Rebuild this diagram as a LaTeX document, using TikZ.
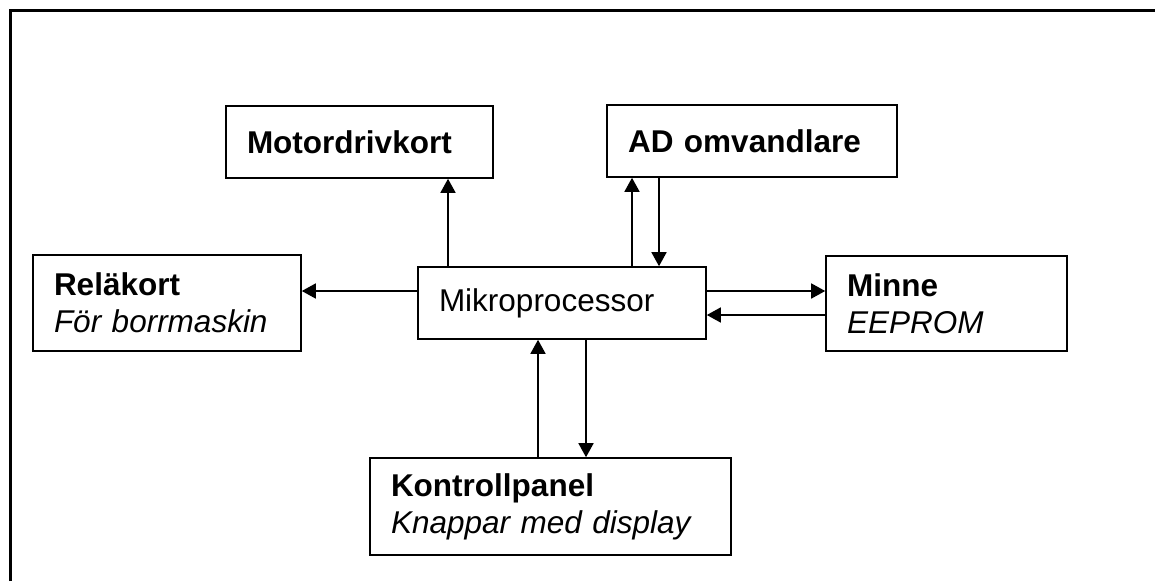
\documentclass[tikz,border=0pt]{standalone}
\usepackage{fontspec}
\setmainfont{Liberation Sans}
\usetikzlibrary{arrows.meta}

\begin{document}
\begin{tikzpicture}[x=1pt, y=-1pt,
    blk/.style={draw, line width=1.6pt, inner xsep=21pt, inner ysep=0pt, align=left,
        font=\fontsize{31.5}{37}\selectfont},
    arr/.style={line width=1.6pt, -{Triangle[length=14pt, width=15pt]}}]
    \useasboundingbox (0,0) rectangle (1155,581);
    \draw[line width=3pt] (10,581) -- (10,10) -- (1155,10);

    \node[blk, minimum width=267pt, minimum height=72pt, text width=225pt] (motor) at (359.5,142) {\textbf{Motordrivkort}};
    \node[blk, minimum width=290pt, minimum height=72pt, text width=248pt] (ad) at (752,141) {\textbf{AD omvandlare}};
    \node[blk, minimum width=268pt, minimum height=96pt, text width=226pt] (rela) at (167,303) {\textbf{Reläkort}\\\textit{För borrmaskin}};
    \node[blk, minimum width=288pt, minimum height=72pt, text width=246pt] (mikro) at (562,303) {Mikroprocessor};
    \node[blk, minimum width=241pt, minimum height=95pt, text width=199pt] (minne) at (946.5,303.5) {\textbf{Minne}\\\textit{EEPROM}};
    \node[blk, minimum width=361pt, minimum height=97pt, text width=319pt] (kontroll) at (550.5,506.5) {\textbf{Kontrollpanel}\\\textit{Knappar med display}};

    \draw[arr] (mikro.north -| 448,0) -- (motor.south -| 448,0);
    \draw[arr] (mikro.north -| 632,0) -- (ad.south -| 632,0);
    \draw[arr] (ad.south -| 659,0) -- (mikro.north -| 659,0);
    \draw[arr] (mikro.west |- 0,291) -- (rela.east |- 0,291);
    \draw[arr] (mikro.east |- 0,291) -- (minne.west |- 0,291);
    \draw[arr] (minne.west |- 0,315) -- (mikro.east |- 0,315);
    \draw[arr] (kontroll.north -| 538,0) -- (mikro.south -| 538,0);
    \draw[arr] (mikro.south -| 586,0) -- (kontroll.north -| 586,0);
\end{tikzpicture}
\end{document}
